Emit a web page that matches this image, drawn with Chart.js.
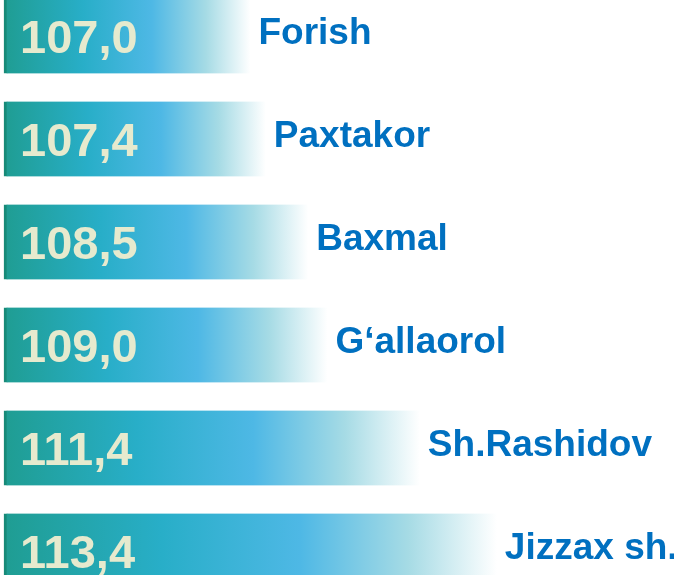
<!DOCTYPE html>
<html>
<head>
<meta charset="utf-8">
<script src="https://cdn.jsdelivr.net/npm/chart.js@4.4.1/dist/chart.umd.min.js"></script>
<style>
    html, body { margin: 0; padding: 0; background: #ffffff; }
    #wrap { width: 674px; height: 575px; position: relative; }
</style>
</head>
<body>
<div id="wrap"><canvas id="barChart"></canvas></div>
<script>
const districts = ['Forish', 'Paxtakor', 'Baxmal', 'G\u2018allaorol', 'Sh.Rashidov', 'Jizzax sh.'];
const values = [107.0, 107.4, 108.5, 109.0, 111.4, 113.4];
const axisMin = 100.6;
const axisMax = 118.0;

function barGradient(context) {
    const chart = context.chart;
    const xScale = chart.scales.x;
    if (!chart.chartArea || !xScale) {
        return '#2ab0cf';
    }
    const x0 = xScale.getPixelForValue(axisMin);
    const x1 = xScale.getPixelForValue(context.raw);
    const g = chart.ctx.createLinearGradient(x0, 0, x1, 0);
    g.addColorStop(0, '#1f9d92');
    g.addColorStop(0.32, '#28aec8');
    g.addColorStop(0.6, '#4eb8e5');
    g.addColorStop(0.82, '#a6dbe5');
    g.addColorStop(1, '#ffffff');
    return g;
}

const barLabels = {
    id: 'barLabels',
    afterDatasetsDraw(chart) {
        const ctx = chart.ctx;
        const meta = chart.getDatasetMeta(0);
        ctx.save();
        ctx.textBaseline = 'alphabetic';
        ctx.textAlign = 'left';
        meta.data.forEach((bar, i) => {
            // value inside the bar
            ctx.font = 'bold 47px "Liberation Sans", Arial, sans-serif';
            ctx.fillStyle = '#e6eace';
            ctx.fillText(values[i].toFixed(1).replace('.', ','), bar.base + 16, bar.y + 17);
            // district name after the bar end
            ctx.font = 'bold 37px "Liberation Sans", Arial, sans-serif';
            ctx.fillStyle = '#0070c0';
            ctx.fillText(districts[i], bar.x + 8, bar.y + 8);
        });
        ctx.restore();
    }
};

function initChart() {
    const ctx = document.getElementById('barChart').getContext('2d');
    new Chart(ctx, {
        type: 'bar',
        data: {
            labels: districts,
            datasets: [{
                data: values,
                base: axisMin,
                backgroundColor: barGradient,
                borderColor: '#178a78',
                borderWidth: { left: 3, top: 0, right: 0, bottom: 0 },
                borderSkipped: false,
                barThickness: 75,
                clip: false
            }]
        },
        options: {
            indexAxis: 'y',
            responsive: true,
            maintainAspectRatio: false,
            animation: false,
            layout: { padding: { left: 4, right: 0, top: 36, bottom: 24 } },
            scales: {
                x: { display: false, min: axisMin, max: axisMax },
                y: { display: false, offset: false }
            },
            plugins: {
                legend: { display: false },
                tooltip: { enabled: false }
            }
        },
        plugins: [barLabels]
    });
}

document.addEventListener('DOMContentLoaded', initChart);
</script>
</body>
</html>
